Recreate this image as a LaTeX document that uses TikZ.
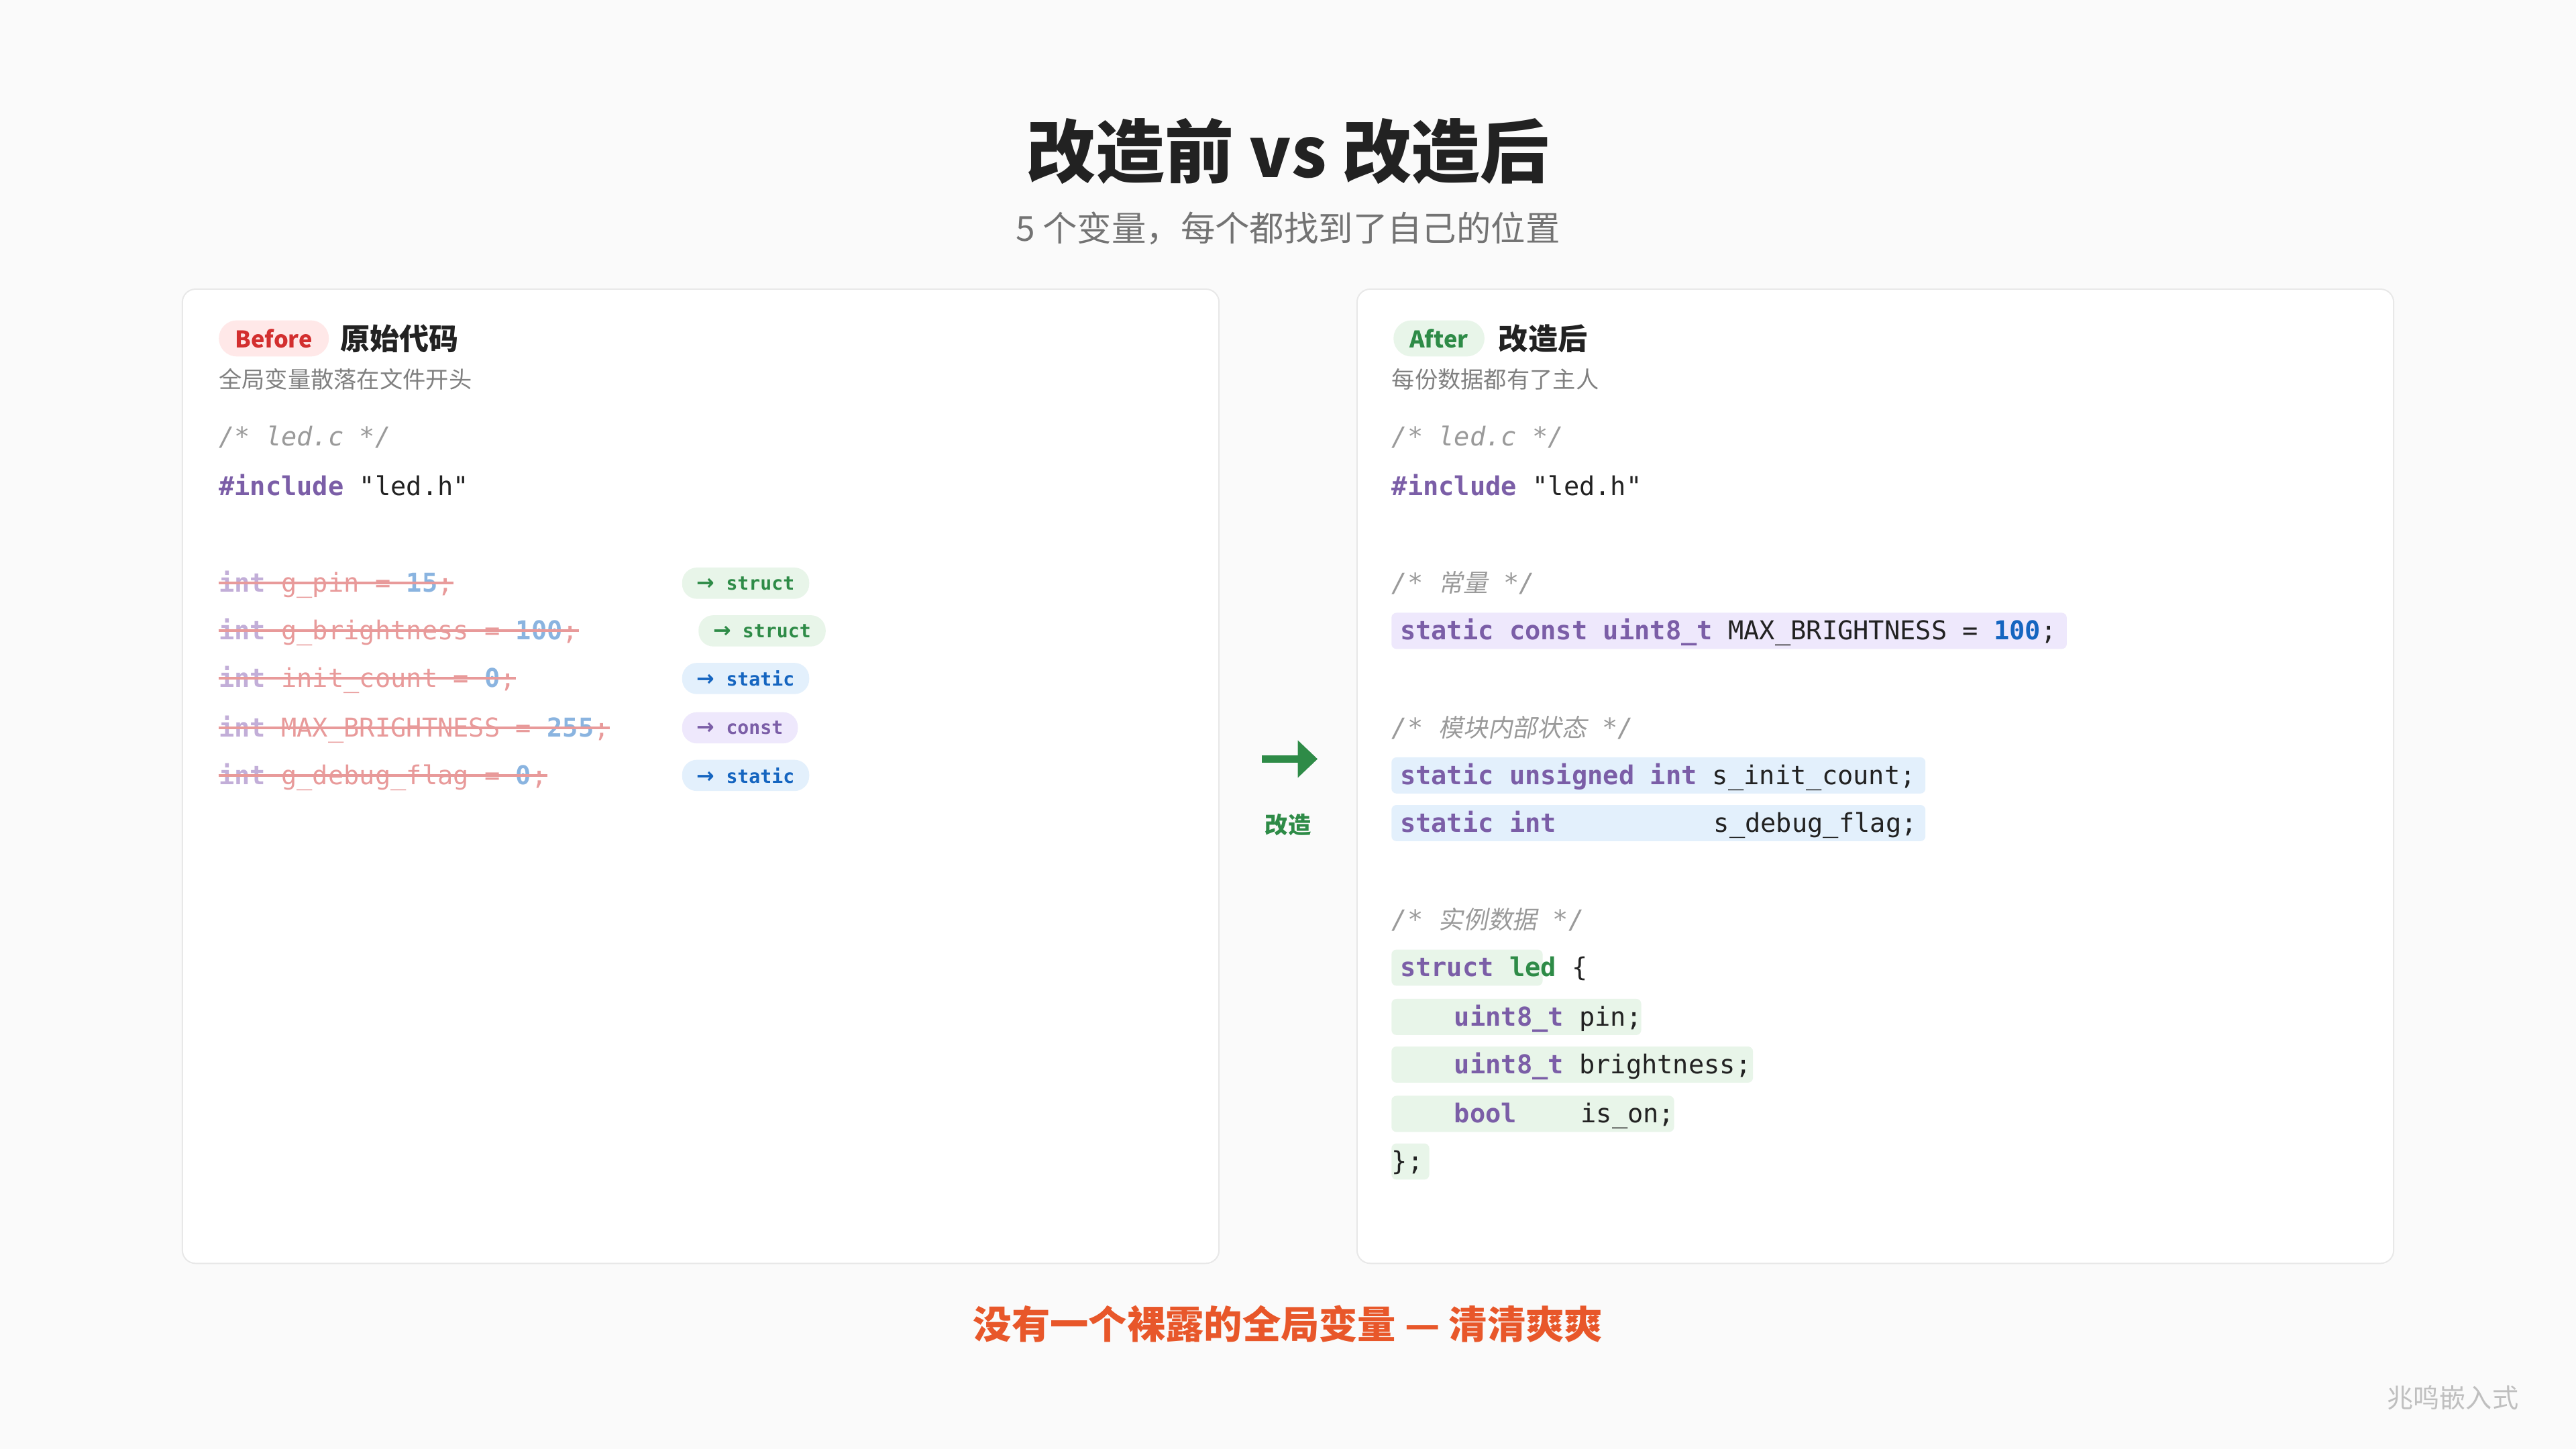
\documentclass[tikz,border=0pt]{standalone}
\usepackage{fontspec}
\setmainfont{Noto Sans CJK SC}
\setmonofont{DejaVu Sans Mono}
\newfontfamily\cjkit{Noto Sans CJK SC}[FakeSlant=0.2]
\newfontfamily\djv{DejaVu Sans}
\usetikzlibrary{arrows.meta}
\definecolor{bg}{HTML}{FAFAFA}
\definecolor{kw}{HTML}{7B5EA7}
\definecolor{tx}{HTML}{222222}
\definecolor{num}{HTML}{1565C0}
\definecolor{cm}{HTML}{9A9A9A}
\definecolor{grn}{HTML}{2E8B47}
\definecolor{red1}{HTML}{D32F2F}
\definecolor{skw}{HTML}{C2AED8}
\definecolor{snm}{HTML}{E89A9A}
\definecolor{snum}{HTML}{8AB4E0}
\definecolor{hpur}{HTML}{EEE8FC}
\definecolor{hblu}{HTML}{E3F0FC}
\definecolor{hgrn}{HTML}{E8F5E9}
\definecolor{orng}{HTML}{E8572A}
\newcommand{\K}[1]{\textcolor{kw}{\bfseries #1}}
\newcommand{\N}[1]{\textcolor{num}{\bfseries #1}}
\newcommand{\Cm}[1]{\textcolor{cm}{\itshape #1}}
\newcommand{\arr}{{\djv\bfseries\fontsize{13}{13}\selectfont →}}
\begin{document}
\begin{tikzpicture}[x=1pt,y=-1pt,
  code/.style={anchor=base west,inner sep=0,font=\fontsize{15.8}{18}\ttfamily,text=tx},
  panel/.style={draw=black!9,fill=white,rounded corners=8,line width=0.8},
  hl/.style={rounded corners=3,inner sep=0},
  tag/.style={rounded corners=9,minimum height=19,inner xsep=9,inner ysep=0,font=\fontsize{11.5}{12}\ttfamily\bfseries,anchor=west},
  strike/.style={draw=snm,line width=1.6}]
\fill[bg] (0,0) rectangle (1568,882);
\useasboundingbox (0,0) rectangle (1568,882);
\node[font=\fontsize{42}{46}\bfseries,text=tx] (title) at (784,92) {改造前 vs 改造后};
\node[font=\fontsize{21}{24}\selectfont,text=black!55] (sub) at (784,139) {5 个变量，每个都找到了自己的位置};
% panels
\draw[panel] (111,176) rectangle (742,769);
\draw[panel] (826,176) rectangle (1457,769);
% left header
\node[fill=red!9,text=red1,rounded corners=11,minimum height=22,inner xsep=10,inner ysep=0,anchor=west,font=\fontsize{14}{16}\bfseries] (bef) at (133,206) {Before};
\node[anchor=west,inner sep=0,font=\fontsize{18}{20}\bfseries,text=tx] (lt) at (207,206) {原始代码};
\node[anchor=west,inner sep=0,font=\fontsize{14}{16}\selectfont,text=black!50] (ls) at (133,231) {全局变量散落在文件开头};
\node[code] (l1) at (133,271.5) {\Cm{/* led.c */}};
\node[code] (l2) at (133,301.5) {\K{\#include} "led.h"};
\foreach \y/\a/\b/\c [count=\i] in {355/g\_pin/15/;,384/g\_brightness/100/;,413/init\_count/0/;,443/MAX\_BRIGHTNESS/255/;,472/g\_debug\_flag/0/;}{
  \node[code] (v\i) at (133,\y+5.5) {\textcolor{skw}{\bfseries int} \textcolor{snm}{\a{} =} \textcolor{snum}{\bfseries\b}\textcolor{snm}{\c}};
  \draw[strike] (v\i.west|-0,\y) -- (v\i.east|-0,\y);
}
\node[tag,fill=hgrn,text=grn] (t1) at (415,355) {\arr\ struct};
\node[tag,fill=hgrn,text=grn] (t2) at (425,384) {\arr\ struct};
\node[tag,fill=hblu,text=num] (t3) at (415,413) {\arr\ static};
\node[tag,fill=hpur,text=kw] (t4) at (415,443) {\arr\ const};
\node[tag,fill=hblu,text=num] (t5) at (415,472) {\arr\ static};
% middle arrow
\coordinate (a1) at (768,462);
\coordinate (a2) at (802,462);
\draw[grn,line width=4.5,-{Triangle[length=12,width=22]}] (a1) -- (a2);
\node[text=grn,font=\fontsize{14}{16}\bfseries] (gz) at (784,502) {改造};
% right header
\node[fill=hgrn,text=grn,rounded corners=11,minimum height=22,inner xsep=10,inner ysep=0,anchor=west,font=\fontsize{14}{16}\bfseries] (aft) at (848,206) {After};
\node[anchor=west,inner sep=0,font=\fontsize{18}{20}\bfseries,text=tx] (rt) at (912,206) {改造后};
\node[anchor=west,inner sep=0,font=\fontsize{14}{16}\selectfont,text=black!50] (rs) at (847,231) {每份数据都有了主人};
\node[code] (r1) at (847,271.5) {\Cm{/* led.c */}};
\node[code] (r2) at (847,301.5) {\K{\#include} "led.h"};
\node[code] (r3) at (847,360.5) {\Cm{/* {\cjkit\fontsize{15}{18}\selectfont 常量} */}};
\fill[hpur,hl] (847,373) rectangle (1258,395);
\node[code] (r4) at (852,389.5) {\K{static const uint8\_t} MAX\_BRIGHTNESS = \N{100};};
\node[code] (r5) at (847,448.5) {\Cm{/* {\cjkit\fontsize{15}{18}\selectfont 模块内部状态} */}};
\fill[hblu,hl] (847,461) rectangle (1172,483);
\fill[hblu,hl] (847,490) rectangle (1172,512);
\node[code] (r6) at (852,477.5) {\K{static unsigned int} s\_init\_count;};
\node[code] (r7) at (852,506.5) {\K{static int}};
\node[code] (r7b) at (1043,506.5) {s\_debug\_flag;};
\node[code] (r8) at (847,565.5) {\Cm{/* {\cjkit\fontsize{15}{18}\selectfont 实例数据} */}};
\fill[hgrn,hl] (847,578) rectangle (939,600);
\fill[hgrn,hl] (847,608) rectangle (999,630);
\fill[hgrn,hl] (847,637) rectangle (1067,659);
\fill[hgrn,hl] (847,667) rectangle (1019,689);
\fill[hgrn,hl] (847,696) rectangle (870,718);
\node[code] (r9) at (852,594.5) {\K{struct} \textcolor{grn}{\bfseries led} \{};
\node[code] (r10) at (885,624.5) {\K{uint8\_t} pin;};
\node[code] (r11) at (885,653.5) {\K{uint8\_t} brightness;};
\node[code] (r12) at (885,683.5) {\K{bool}};
\node[code] (r12b) at (962,683.5) {is\_on;};
\node[code] (r13) at (847,712.5) {\};};
% footer
\node[text=orng,font=\fontsize{23.4}{26}\bfseries] (foot) at (784,806) {没有一个裸露的全局变量 — 清清爽爽};
\node[text=black!25,font=\fontsize{16}{18}\selectfont] (wm) at (1493,851) {兆鸣嵌入式};
\end{tikzpicture}
\end{document}
